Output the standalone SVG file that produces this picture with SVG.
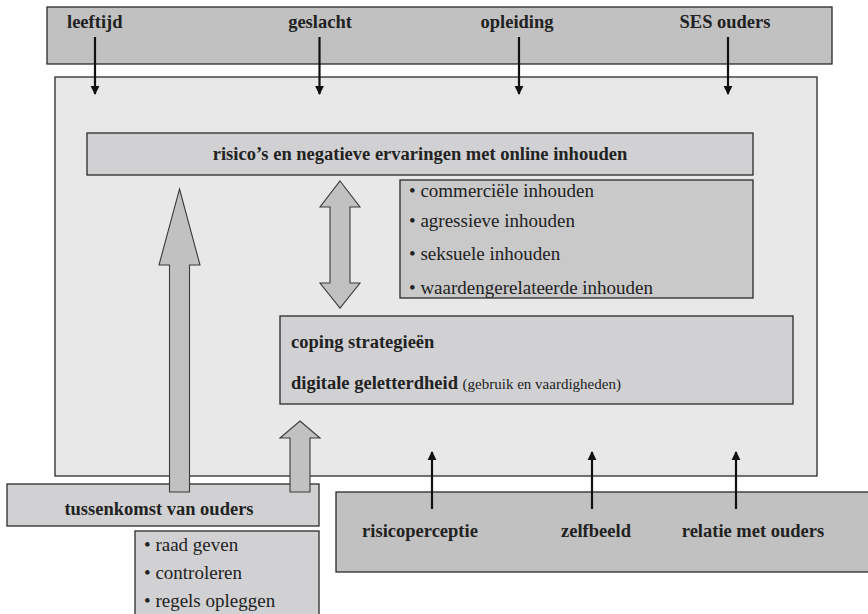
<svg xmlns="http://www.w3.org/2000/svg" width="868" height="614" viewBox="0 0 868 614">
<defs>
<marker id="ah" viewBox="0 0 10 10" refX="9" refY="5" markerWidth="4" markerHeight="4.5" orient="auto" markerUnits="strokeWidth">
<path d="M0,0 L10,5 L0,10 Z" fill="#111"/>
</marker>
<style>
.box{stroke:#2a2a2a;stroke-width:1.3}
.dark{fill:#c1c1c1}
.mid{fill:#d1d1d3}
.bul{fill:#c9c9ca}
.light{fill:#e8e8e8}
.b{font-family:"Liberation Serif","Times New Roman",serif;font-weight:bold;font-size:18.5px;fill:#222}
.r{font-family:"Liberation Serif","Times New Roman",serif;font-size:19px;fill:#222}
.s{font-family:"Liberation Serif","Times New Roman",serif;font-size:15px;fill:#222;font-weight:normal}
.ln{stroke:#111;stroke-width:2.2;fill:none;marker-end:url(#ah)}
.fat{fill:#c1c1c1;stroke:#3a3a3a;stroke-width:1.1}
</style>
</defs>
<rect width="868" height="614" fill="#fff"/>

<g id="top-factors">
<rect class="box dark" x="47" y="7" width="785" height="57"/>
<text class="b" x="67" y="28">leeftijd</text>
<text class="b" x="320" y="28" text-anchor="middle">geslacht</text>
<text class="b" x="517" y="28" text-anchor="middle">opleiding</text>
<text class="b" x="725" y="28" text-anchor="middle">SES ouders</text>
</g>

<g id="context">
<rect class="box light" x="55" y="77" width="762" height="399"/>
</g>

<g id="risico">
<rect class="box mid" x="87" y="133" width="666" height="42"/>
<text class="b" x="420" y="160" text-anchor="middle">risico’s en negatieve ervaringen met online inhouden</text>
</g>

<g id="inhouden">
<rect class="box bul" x="400" y="180" width="353" height="118"/>
<text class="r" x="409" y="197">• commerciële inhouden</text>
<text class="r" x="409" y="227">• agressieve inhouden</text>
<text class="r" x="409" y="260">• seksuele inhouden</text>
<text class="r" x="409" y="294">• waardengerelateerde inhouden</text>
</g>

<g id="coping">
<rect class="box mid" x="280" y="316" width="513" height="88"/>
<text class="b" x="291" y="348">coping strategieën</text>
<text class="b" x="291" y="389">digitale geletterdheid <tspan class="s">(gebruik en vaardigheden)</tspan></text>
</g>

<g id="tussenkomst">
<rect class="box mid" x="7" y="484" width="312" height="42"/>
<text class="b" x="159" y="515" text-anchor="middle">tussenkomst van ouders</text>
</g>

<g id="ouder-acties">
<rect class="box mid" x="135" y="531" width="184" height="90"/>
<text class="r" x="144" y="551">• raad geven</text>
<text class="r" x="144" y="579">• controleren</text>
<text class="r" x="144" y="607">• regels opleggen</text>
</g>

<g id="persoon-factors">
<rect class="box dark" x="336" y="492" width="540" height="80"/>
<text class="b" x="420" y="537" text-anchor="middle">risicoperceptie</text>
<text class="b" x="596" y="537" text-anchor="middle">zelfbeeld</text>
<text class="b" x="753" y="537" text-anchor="middle">relatie met ouders</text>
</g>

<g id="connectors">
<line class="ln" x1="95" y1="37" x2="95" y2="94"/>
<line class="ln" x1="319.5" y1="37" x2="319.5" y2="94"/>
<line class="ln" x1="519" y1="37" x2="519" y2="94"/>
<line class="ln" x1="728" y1="37" x2="728" y2="94"/>
<line class="ln" x1="432" y1="509" x2="432" y2="452"/>
<line class="ln" x1="592" y1="509" x2="592" y2="452"/>
<line class="ln" x1="736" y1="509" x2="736" y2="452"/>
<polygon class="fat" points="179.5,189 200,265 189.5,265 189.5,492 169.5,492 169.5,265 159,265"/>
<polygon class="fat" points="340,181 360,207 350,207 350,283 360,283 340,308 320,283 330,283 330,207 320,207"/>
<polygon class="fat" points="300,421 320,438 310,438 310,492 290,492 290,438 280,438"/>
</g>
</svg>
